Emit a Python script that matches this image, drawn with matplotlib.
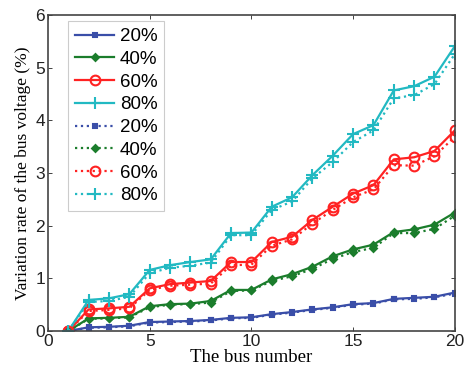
import matplotlib
matplotlib.use("Agg")
import matplotlib.pyplot as plt

bus = list(range(1, 21))

s20 = [0, 0.07, 0.08, 0.10, 0.17, 0.18, 0.19, 0.21, 0.25, 0.26, 0.32, 0.36, 0.41, 0.45, 0.51, 0.53, 0.61, 0.63, 0.65, 0.73]
s40 = [0, 0.24, 0.25, 0.27, 0.47, 0.51, 0.52, 0.57, 0.78, 0.78, 0.98, 1.08, 1.22, 1.42, 1.55, 1.64, 1.88, 1.93, 2.02, 2.25]
s60 = [0, 0.41, 0.43, 0.46, 0.81, 0.89, 0.92, 0.95, 1.31, 1.31, 1.69, 1.79, 2.11, 2.36, 2.61, 2.77, 3.26, 3.30, 3.42, 3.81]
s80 = [0, 0.59, 0.62, 0.70, 1.16, 1.25, 1.31, 1.36, 1.86, 1.87, 2.36, 2.54, 2.96, 3.33, 3.74, 3.91, 4.57, 4.65, 4.83, 5.41]

d20 = [0, 0.06, 0.07, 0.09, 0.16, 0.17, 0.18, 0.20, 0.24, 0.25, 0.31, 0.35, 0.40, 0.44, 0.50, 0.52, 0.60, 0.61, 0.64, 0.71]
d40 = [0, 0.23, 0.24, 0.26, 0.45, 0.50, 0.51, 0.54, 0.76, 0.77, 0.95, 1.04, 1.18, 1.37, 1.50, 1.58, 1.86, 1.86, 1.94, 2.19]
d60 = [0, 0.38, 0.40, 0.43, 0.78, 0.86, 0.88, 0.90, 1.25, 1.26, 1.62, 1.74, 2.04, 2.30, 2.54, 2.69, 3.15, 3.14, 3.32, 3.69]
d80 = [0, 0.55, 0.57, 0.65, 1.10, 1.20, 1.24, 1.30, 1.82, 1.82, 2.30, 2.46, 2.90, 3.21, 3.59, 3.81, 4.42, 4.48, 4.69, 5.26]

labels = ["20%", "40%", "60%", "80%"]
colors = ["#3a4ea8", "#1b7d2c", "#ff2222", "#22b9c2"]
markers = [("s", 3.0, True), ("D", 3.5, True), ("o", 7, False), ("+", 9, True)]

fig = plt.figure(figsize=(4.66, 3.69), dpi=100)
ax = fig.add_axes([0.103, 0.103, 0.873, 0.856])

solid = [s20, s40, s60, s80]
dotted = [d20, d40, d60, d80]

for data, ls in ((solid, "-"), (dotted, ":")):
    for vals, lab, c, (m, ms, filled) in zip(data, labels, colors, markers):
        ax.plot(bus, vals, linestyle=ls, color=c, lw=1.6, marker=m, markersize=ms,
                markerfacecolor=(c if filled else "none"), markeredgecolor=c,
                markeredgewidth=1.5, label=lab)

ax.set_xlim(0, 20)
ax.set_ylim(0, 6)
ax.set_xticks([0, 5, 10, 15, 20])
ax.set_yticks([0, 1, 2, 3, 4, 5, 6])
ax.tick_params(direction="in", length=3, labelsize=12.5, width=0.6, colors="#222222",
               top=True, right=True, pad=2)
for lab in ax.get_xticklabels() + ax.get_yticklabels():
    lab.set_family("Liberation Sans")
for sp in ax.spines.values():
    sp.set_color("#444444")
    sp.set_linewidth(1.2)

ax.set_xlabel("The bus number", family="Liberation Serif", fontsize=13.5, labelpad=0)
ax.set_ylabel("Variation rate of the bus voltage (%)", family="Liberation Serif",
              fontsize=12.5, labelpad=3)

leg = ax.legend(loc="upper left", bbox_to_anchor=(0.05, 0.98),
                prop={"family": "Liberation Sans", "size": 13.5},
                handlelength=2.1, handletextpad=0.3, labelspacing=0.30,
                borderpad=0.35, borderaxespad=0, fancybox=False, framealpha=1)
leg.get_frame().set_edgecolor("#cccccc")
leg.get_frame().set_linewidth(0.8)

fig.savefig("out.png", dpi=100)
